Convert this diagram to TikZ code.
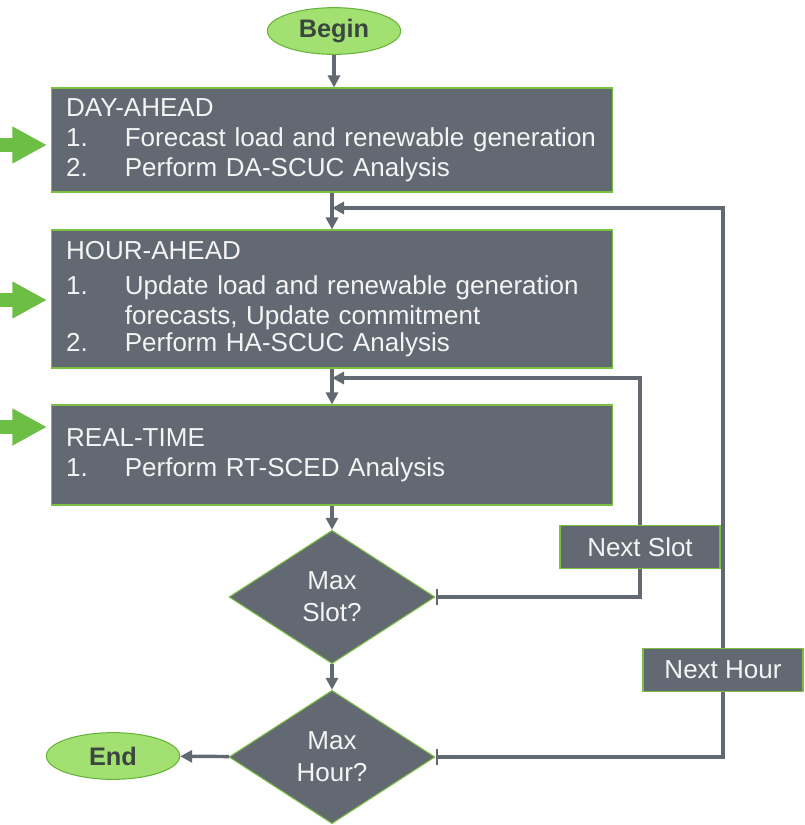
\documentclass[tikz,border=0pt]{standalone}
\usepackage{fontspec}
\setmainfont{Liberation Sans}
\usepackage{xcolor}
\usepackage{tikz}
\usetikzlibrary{shapes.geometric,arrows.meta}
\definecolor{slate}{HTML}{626973}
\definecolor{edge}{HTML}{7BC043}
\definecolor{leaf}{HTML}{A3E072}
\definecolor{leafdark}{HTML}{66B43A}
\definecolor{ink}{HTML}{3A4640}
\definecolor{paper}{HTML}{F4F4F4}
\definecolor{feedgreen}{HTML}{6DBE45}
\newcommand\stepitem[2]{\makebox[44pt][l]{#1}\mbox{#2}}
\tikzset{
  stage/.style={draw=edge, fill=slate, line width=0.8pt, text=paper, minimum width=420.75pt,
    text width=398.75pt, inner xsep=11pt, inner ysep=6pt, align=left,
    font=\fontsize{19.5}{22.5}\selectfont},
  decide/.style={diamond, draw=edge, fill=slate, line width=0.8pt, text=paper, minimum width=154.5pt,
    minimum height=100pt, inner sep=0pt, align=center, font=\fontsize{19.5}{24}\selectfont},
  term/.style={ellipse, draw=leafdark, fill=leaf, line width=0.8pt, text=ink, minimum width=100pt,
    minimum height=35pt, inner sep=0pt, font=\bfseries\fontsize{19}{22}\selectfont},
  loopbox/.style={draw=edge, fill=slate, line width=0.8pt, text=paper, minimum width=120pt,
    minimum height=32.5pt, inner sep=0pt, font=\fontsize{19.5}{22.5}\selectfont},
  flow/.style={draw=slate, line width=2.6pt, -{Triangle[length=9pt,width=9pt]}},
  back/.style={draw=slate, line width=2.6pt, {Bar[width=12pt,line width=1.6pt]}-},
  feed/.style={draw=feedgreen, line width=11pt, -{Triangle[length=26pt,width=26pt]}, shorten >=3pt},
}

\begin{document}
\begin{tikzpicture}[x=0.75pt,y=-0.75pt]
  \useasboundingbox (0,0) rectangle (804,825);
  \node[term] (begin) at (334,31) {Begin};
  \node[stage, minimum height=78pt] (da) at (332,140) {DAY-AHEAD\\
    \stepitem{1.}{Forecast load and renewable generation}\\
    \stepitem{2.}{Perform DA-SCUC Analysis}};
  \node[stage, minimum height=103.5pt] (ha) at (332,299) {HOUR-AHEAD\\[4pt]
    \stepitem{1.}{\parbox[t]{354pt}{Update load and renewable generation forecasts, Update commitment}}\\[1pt]
    \stepitem{2.}{Perform HA-SCUC Analysis}};
  \node[stage, minimum height=75pt] (rt) at (332,455) {REAL-TIME\\
    \stepitem{1.}{Perform RT-SCED Analysis}};
  \node[decide] (slot) at (332,597) {Max\\Slot?};
  \node[decide] (hour) at (332,757) {Max\\Hour?};
  \node[term] (end) at (113,756) {End};
  \node[loopbox] (nslot) at (640,547) {Next Slot};
  \node[loopbox] (nhour) at (723,670) {Next Hour};
  \coordinate (jhour) at (332,208);
  \coordinate (jslot) at (332,378);
  % main line
  \draw[flow] (begin) -- (begin |- da.north);
  \draw[flow] (da) -- (ha);
  \draw[flow] (ha) -- (rt);
  \draw[flow] (rt) -- (slot);
  \draw[flow] (slot) -- (hour);
  \draw[flow] (hour) -- (end);
  % loops back
  \draw[back] (slot.east) -| (nslot.south);
  \draw[flow] (nslot.north) |- (jslot);
  \draw[back] (hour.east) -| (nhour.south);
  \draw[flow] (nhour.north) |- (jhour);
  % inputs from the left
  \coordinate (fda) at (0,145);
  \coordinate (fha) at (0,300);
  \coordinate (frt) at (0,427);
  \draw[feed] (fda) -- (fda -| da.west);
  \draw[feed] (fha) -- (fha -| ha.west);
  \draw[feed] (frt) -- (frt -| rt.west);
\end{tikzpicture}
\end{document}
